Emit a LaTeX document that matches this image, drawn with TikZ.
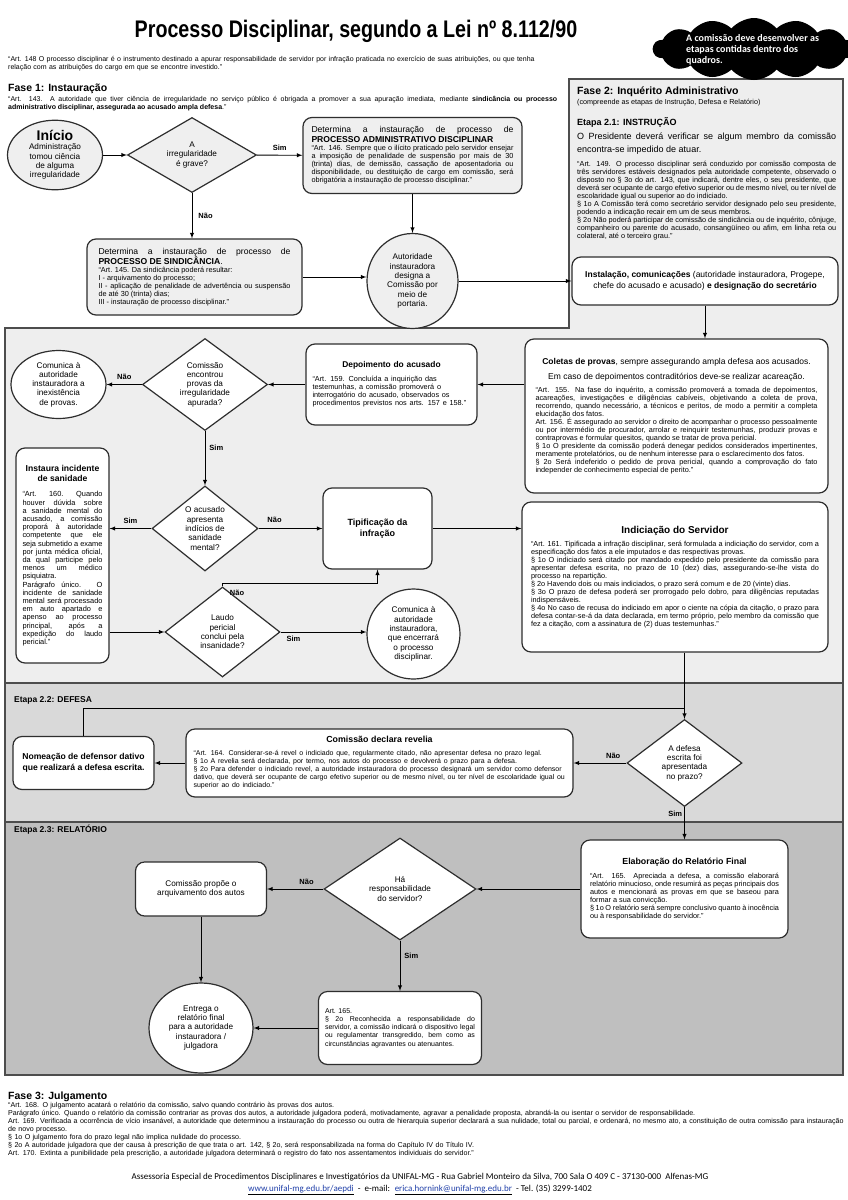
\documentclass[tikz,border=0pt]{standalone}
\usepackage{fontspec}
\usepackage{graphicx}
\setmainfont{Liberation Sans}
\newfontfamily\footfont{Carlito}
\usetikzlibrary{shapes.geometric,shapes.symbols}

\definecolor{panela}{HTML}{EEEEEE}
\definecolor{panelb}{HTML}{D9D9D9}
\definecolor{panelc}{HTML}{BFBFBF}
\definecolor{boxfill}{HTML}{EFEFEF}
\definecolor{edge}{HTML}{2E2E2E}
\definecolor{linkblue}{HTML}{1F3FA8}

\hyphenpenalty=10000
\exhyphenpenalty=10000
\tolerance=9999
\emergencystretch=20pt

\newcommand{\artsize}{\fontsize{7.3}{8}\selectfont}
\newcommand{\legsize}{\fontsize{7}{8}\selectfont}
\newcommand{\nodesize}{\fontsize{8.2}{9.3}\selectfont}
\newcommand{\optsize}{\fontsize{7.5}{8}\selectfont\bfseries}

\begin{document}
\begin{tikzpicture}
[every node/.style={inner sep=0pt}, >=latex,
 panel/.style={draw=edge!85, line width=1.2pt},
 procbox/.style={rectangle, rounded corners=9pt, draw=edge, line width=1.2pt, fill=white, align=center, font=\nodesize},
 grybox/.style={procbox, fill=boxfill},
 decision/.style={diamond, draw=edge, line width=1.2pt, fill=white, align=center, font=\nodesize},
 endcap/.style={ellipse, draw=edge, line width=1.2pt, fill=white, align=center, font=\nodesize},
 flow/.style={line width=0.9, ->, color=black},
 plain/.style={line width=0.9, color=black},
 answer/.style={font=\optsize}]
\useasboundingbox (0pt,0pt) rectangle (848pt,-1200pt);
\fill [white] (0pt,0pt) rectangle (848pt,-1200pt);

% panels of fase 2
\draw [panel, fill=panela] (569pt,-79pt) -- (843pt,-79pt) -- (843pt,-683pt) -- (5pt,-683pt) -- (5pt,-328pt) -- (569pt,-328pt) -- cycle;
\draw [panel, fill=panelb] (5pt,-683pt) rectangle (843pt,-822pt);
\draw [panel, fill=panelc] (5pt,-822pt) rectangle (843pt,-1075pt);

% title and note
\node (titulo) at (356pt,-31pt) {\fontsize{24}{24}\selectfont\bfseries\scalebox{0.82}[1]{Processo Disciplinar, segundo a Lei nº 8.112/90}};
\node (nota) [cloud, cloud puffs=14, cloud puff arc=100, aspect=3.4, fill=black, minimum width=202pt, minimum height=62pt] at (754pt,-49pt) {};
\node (notatxt) [anchor=west, align=left, text=white, font=\footfont\bfseries\fontsize{10}{11}\selectfont] at (686pt,-50pt) {A comissão deve desenvolver as\\etapas contidas dentro dos\\quadros.};
\node (art148) [anchor=north west, text width=560pt, align=left, font=\legsize] at (8pt,-56pt) {“Art. 148 O processo disciplinar é o instrumento destinado a apurar responsabilidade de servidor por infração praticada no exercício de suas atribuições, ou que tenha\\relação com as atribuições do cargo em que se encontre investido.”};

% fase 1
\node (fase1) [anchor=west, font=\fontsize{10.5}{12}\selectfont\bfseries] at (8pt,-89pt) {Fase 1: Instauração};
\node (art143) [anchor=north west, text width=549pt, align=justify, font=\legsize] at (8pt,-96pt) {“Art. 143.  A autoridade que tiver ciência de irregularidade no serviço público é obrigada a promover a sua apuração imediata, mediante \textbf{sindicância ou processo}\linebreak \textbf{administrativo disciplinar, assegurada ao acusado ampla defesa}.”\par};

\node (inicio) [endcap, fill=boxfill, minimum width=95pt, minimum height=68pt] at (55pt,-155pt) {{\fontsize{14}{15}\selectfont\bfseries Início}\\Administração\\tomou ciência\\de alguma\\irregularidade};
\node (grave) [decision, fill=boxfill, minimum width=129pt, minimum height=75pt, aspect=1.7] at (192pt,-155pt) {A\\irregularidade\\é grave?};
\node (pad) [grybox, text width=202pt, minimum width=219pt, minimum height=76pt, align=justify] at (412.5pt,-155.5pt) {{\fontsize{8.6}{9.8}\selectfont Determina a instauração de processo de\linebreak \textbf{PROCESSO ADMINISTRATIVO DISCIPLINAR}\par}{\artsize “Art. 146.  Sempre que o ilícito praticado pelo servidor ensejar a imposição de penalidade de suspensão por mais de 30 (trinta) dias, de demissão, cassação de aposentadoria ou disponibilidade, ou destituição de cargo em comissão, será obrigatória a instauração de processo disciplinar.”\par}};
\node (sind) [grybox, text width=192pt, minimum width=215pt, minimum height=76pt, align=justify] at (194.5pt,-277pt) {{\fontsize{8.6}{9.8}\selectfont Determina a instauração de processo de\linebreak \textbf{PROCESSO DE SINDICÂNCIA}.\par}{\artsize “Art. 145.  Da sindicância poderá resultar:\\I - arquivamento do processo;\\II - aplicação de penalidade de advertência ou suspensão de até 30 (trinta) dias;\\III - instauração de processo disciplinar.”\par}\vspace{8pt}};
\node (autor) [endcap, fill=boxfill, minimum width=91pt, minimum height=95pt] at (412.5pt,-281pt) {Autoridade\\instauradora\\designa a\\Comissão por\\meio de\\portaria.};

% fase 2, etapa 2.1
\node (fase2) [anchor=west, font=\fontsize{10.5}{12}\selectfont\bfseries] at (577pt,-92pt) {Fase 2: Inquérito Administrativo};
\node (fase2sub) [anchor=west, font=\fontsize{7.2}{8}\selectfont] at (577pt,-103pt) {(compreende as etapas de Instrução, Defesa e Relatório)};
\node (etapa1) [anchor=west, font=\fontsize{9}{10}\selectfont\bfseries] at (577pt,-122pt) {Etapa 2.1: INSTRUÇÃO};
\node (presidente) [anchor=north west, text width=259pt, align=justify, font=\fontsize{9}{12.5}\selectfont] at (577pt,-133pt) {O Presidente deverá verificar se algum membro da comissão encontra-se impedido de atuar.\par};
\node (art149) [anchor=north west, text width=259pt, align=justify, font=\artsize] at (577pt,-161pt) {“Art. 149.  O processo disciplinar será conduzido por comissão composta de três servidores estáveis designados pela autoridade competente, observado o disposto no § 3o do art. 143, que indicará, dentre eles, o seu presidente, que deverá ser ocupante de cargo efetivo superior ou de mesmo nível, ou ter nível de escolaridade igual ou superior ao do indiciado.\\§ 1o  A Comissão terá como secretário servidor designado pelo seu presidente, podendo a indicação recair em um de seus membros.\\§ 2o  Não poderá participar de comissão de sindicância ou de inquérito, cônjuge, companheiro ou parente do acusado, consangüíneo ou afim, em linha reta ou colateral, até o terceiro grau.”\par};
\node (instal) [procbox, minimum width=266pt, minimum height=48pt, font=\fontsize{8.5}{11}\selectfont] at (705pt,-281pt) {\textbf{Instalação, comunicações} (autoridade instauradora, Progepe,\\chefe do acusado e acusado) \textbf{e designação do secretário}};

\node (coletas) [procbox, text width=282pt, minimum width=303pt, minimum height=154pt, align=justify] at (676.5pt,-416pt) {{\centering\fontsize{8.5}{11}\selectfont \textbf{Coletas de provas}, sempre assegurando ampla defesa aos acusados.\par}\vspace{4pt}{\centering\fontsize{8.5}{11}\selectfont Em caso de depoimentos contraditórios deve-se realizar acareação.\par}\vspace{5pt}{\artsize “Art. 155.  Na fase do inquérito, a comissão promoverá a tomada de depoimentos, acareações, investigações e diligências cabíveis, objetivando a coleta de prova, recorrendo, quando necessário, a técnicos e peritos, de modo a permitir a completa elucidação dos fatos.\\Art. 156.  É assegurado ao servidor o direito de acompanhar o processo pessoalmente ou por intermédio de procurador, arrolar e reinquirir testemunhas, produzir provas e contraprovas e formular quesitos, quando se tratar de prova pericial.\\§ 1o  O presidente da comissão poderá denegar pedidos considerados impertinentes, meramente protelatórios, ou de nenhum interesse para o esclarecimento dos fatos.\\§ 2o  Será indeferido o pedido de prova pericial, quando a comprovação do fato independer de conhecimento especial de perito.”\par}};
\node (depo) [procbox, text width=158pt, minimum width=171pt, minimum height=81pt, align=left] at (391.5pt,-384.5pt) {{\centering\bfseries\fontsize{8.4}{10}\selectfont Depoimento do acusado\par}\vspace{6pt}{\artsize “Art. 159.  Concluída a inquirição das\\testemunhas, a comissão promoverá o\\interrogatório do acusado, observados os\\procedimentos previstos nos arts. 157 e 158.”\par}};
\node (encontrou) [decision, minimum width=125pt, minimum height=92pt, aspect=1.36] at (205pt,-384.5pt) {Comissão\\encontrou\\provas da\\irregularidade\\apurada?};
\node (semprova) [endcap, minimum width=95pt, minimum height=68pt] at (58.5pt,-384.5pt) {Comunica à\\autoridade\\instauradora a\\inexistência\\de provas.};
\node (sanidade) [decision, minimum width=106pt, minimum height=85pt, aspect=1.25] at (205pt,-528.5pt) {O acusado\\apresenta\\indícios de\\sanidade\\mental?};
\node (instaura) [procbox, text width=80pt, minimum width=93pt, minimum height=215pt, align=justify] at (62.5pt,-555.5pt) {{\centering\bfseries\fontsize{8.6}{10.5}\selectfont Instaura incidente de sanidade\par}\vspace{7pt}{\fontsize{7.4}{8.2}\selectfont “Art. 160.  Quando houver dúvida sobre a sanidade mental do acusado, a comissão proporá à autoridade competente que ele seja submetido a exame por junta médica oficial, da qual participe pelo menos um médico psiquiatra.\\Parágrafo único.  O incidente de sanidade mental será processado em auto apartado e apenso ao processo principal, após a expedição do laudo pericial.”\par}};
\node (tipif) [procbox, minimum width=109pt, minimum height=81pt, font=\fontsize{9}{11}\selectfont\bfseries] at (377.5pt,-528.5pt) {Tipificação da\\infração};
\node (laudo) [decision, minimum width=115pt, minimum height=90pt, aspect=1.3] at (222.5pt,-632pt) {Laudo\\pericial\\conclui pela\\insanidade?};
\node (encerra) [endcap, minimum width=93pt, minimum height=90pt] at (413.5pt,-634pt) {Comunica à\\autoridade\\instauradora,\\que encerrará\\o processo\\disciplinar.};
\node (indic) [procbox, text width=288pt, minimum width=306pt, minimum height=150pt, align=justify] at (675pt,-577pt) {{\centering\bfseries\fontsize{10}{12}\selectfont Indiciação do Servidor\par}\vspace{5pt}{\artsize “Art. 161.  Tipificada a infração disciplinar, será formulada a indiciação do servidor, com a especificação dos fatos a ele imputados e das respectivas provas.\\§ 1o  O indiciado será citado por mandado expedido pelo presidente da comissão para apresentar defesa escrita, no prazo de 10 (dez) dias, assegurando-se-lhe vista do processo na repartição.\\§ 2o  Havendo dois ou mais indiciados, o prazo será comum e de 20 (vinte) dias.\\§ 3o  O prazo de defesa poderá ser prorrogado pelo dobro, para diligências reputadas indispensáveis.\\§ 4o  No caso de recusa do indiciado em apor o ciente na cópia da citação, o prazo para defesa contar-se-á da data declarada, em termo próprio, pelo membro da comissão que fez a citação, com a assinatura de (2) duas testemunhas.”\par}};

% etapa 2.2
\node (etapa2) [anchor=west, font=\fontsize{8.5}{10}\selectfont\bfseries] at (14pt,-700pt) {Etapa 2.2: DEFESA};
\node (nomeacao) [procbox, minimum width=141pt, minimum height=53pt, font=\fontsize{8.6}{10.5}\selectfont\bfseries] at (83.5pt,-763pt) {Nomeação de defensor dativo\\que realizará a defesa escrita.};
\node (revelia) [procbox, text width=372pt, minimum width=387pt, minimum height=68pt, align=left] at (379.5pt,-763pt) {{\centering\bfseries\fontsize{8.8}{10}\selectfont Comissão declara revelia\par}\vspace{5pt}{\legsize “Art. 164.  Considerar-se-á revel o indiciado que, regularmente citado, não apresentar defesa no prazo legal.\\§ 1o  A revelia será declarada, por termo, nos autos do processo e devolverá o prazo para a defesa.\\§ 2o  Para defender o indiciado revel, a autoridade instauradora do processo designará um servidor como defensor\\dativo, que deverá ser ocupante de cargo efetivo superior ou de mesmo nível, ou ter nível de escolaridade igual ou\\superior ao do indiciado.”\par}};
\node (defesa) [decision, minimum width=115pt, minimum height=87pt, aspect=1.3] at (684.5pt,-763pt) {A defesa\\escrita foi\\apresentada\\no prazo?};
\coordinate (juncao) at (684.5pt,-708pt);

% etapa 2.3
\node (etapa3) [anchor=west, font=\fontsize{8.5}{10}\selectfont\bfseries] at (14pt,-830pt) {Etapa 2.3: RELATÓRIO};
\node (elab) [procbox, text width=189pt, minimum width=207pt, minimum height=98pt, align=justify] at (684.5pt,-889pt) {{\centering\bfseries\fontsize{8.8}{10}\selectfont Elaboração do Relatório Final\par}\vspace{6pt}{\artsize “Art. 165.  Apreciada a defesa, a comissão elaborará relatório minucioso, onde resumirá as peças principais dos autos e mencionará as provas em que se baseou para formar a sua convicção.\\§ 1o  O relatório será sempre conclusivo quanto à inocência ou à responsabilidade do servidor.”\par}};
\node (ha) [decision, minimum width=152pt, minimum height=102pt, aspect=1.5] at (400pt,-889pt) {Há\\responsabilidade\\do servidor?};
\node (propoe) [procbox, minimum width=131pt, minimum height=54pt] at (201pt,-889pt) {Comissão propõe o\\arquivamento dos autos};
\node (entrega) [endcap, minimum width=104pt, minimum height=90pt] at (201pt,-1028pt) {Entrega o\\relatório final\\para a autoridade\\instauradora /\\julgadora};
\node (art165) [procbox, text width=150pt, minimum width=163pt, minimum height=73pt, align=justify] at (400pt,-1028pt) {{\fontsize{7}{8.2}\selectfont Art. 165.\\§ 2o  Reconhecida a responsabilidade do servidor, a comissão indicará o dispositivo legal ou regulamentar transgredido, bem como as circunstâncias agravantes ou atenuantes.\par}};

% fase 3 and footer
\node (fase3) [anchor=west, font=\fontsize{10.5}{12}\selectfont\bfseries] at (8pt,-1097pt) {Fase 3: Julgamento};
\node (art168) [anchor=north west, text width=845pt, align=left, font=\fontsize{7.1}{8}\selectfont] at (8pt,-1102pt) {“Art. 168.  O julgamento acatará o relatório da comissão, salvo quando contrário às provas dos autos.\\Parágrafo único.  Quando o relatório da comissão contrariar as provas dos autos, a autoridade julgadora poderá, motivadamente, agravar a penalidade proposta, abrandá-la ou isentar o servidor de responsabilidade.\\Art. 169. Verificada a ocorrência de vício insanável, a autoridade que determinou a instauração do processo ou outra de hierarquia superior declarará a sua nulidade, total ou parcial, e ordenará, no mesmo ato, a constituição de outra comissão para instauração\\de novo processo.\\§ 1o  O julgamento fora do prazo legal não implica nulidade do processo.\\§ 2o  A autoridade julgadora que der causa à prescrição de que trata o art. 142, § 2o, será responsabilizada na forma do Capítulo IV do Título IV.\\Art. 170.  Extinta a punibilidade pela prescrição, a autoridade julgadora determinará o registro do fato nos assentamentos individuais do servidor.”};
\node (rodape) [align=center, font=\footfont\fontsize{9}{12.5}\selectfont] at (420pt,-1184pt) {Assessoria Especial de Procedimentos Disciplinares e Investigatórios da UNIFAL-MG - Rua Gabriel Monteiro da Silva, 700 Sala O 409 C - 37130-000~ Alfenas-MG\\\underline{\textcolor{linkblue}{www.unifal-mg.edu.br/aepdi}} ~-~ e-mail: ~\underline{\textcolor{linkblue}{erica.hornink@unifal-mg.edu.br}} ~- Tel. (35) 3299-1402};

% connectors
\draw [flow] (inicio) to (grave);
\draw [flow] (grave) to node [answer, above=4pt] {Sim} (pad);
\draw [flow] (grave.south) to node [answer, right=6pt] {Não} (grave.south |- sind.north);
\draw [flow] (pad) to (autor);
\draw [flow] (sind.east) to (sind.east -| autor.west);
\draw [flow] (autor) to (instal);
\draw [flow] (instal.south) to (instal.south |- coletas.north);
\draw [flow] (depo.east -| coletas.west) to (depo.east);
\draw [flow] (depo) to (encontrou);
\draw [flow] (encontrou) to node [answer, above=4pt] {Não} (semprova);
\draw [flow] (encontrou) to node [answer, right=4pt, pos=0.3] {Sim} (sanidade);
\draw [flow] (sanidade.west) to node [answer, above=4pt] {Sim} (sanidade.west -| instaura.east);
\draw [flow] (sanidade) to node [answer, above=5pt, pos=0.25] {Não} (tipif);
\draw [flow] (laudo.west -| instaura.east) to (laudo.west);
\coordinate (naovolta) at (222.5pt,-583pt);
\draw [flow] (laudo.north) -- (naovolta) -| (tipif.south);
\node (naolaudo) [answer] at (237pt,-593pt) {Não};
\draw [flow] (laudo.east) to node [answer, below=4pt, pos=0.15] {Sim} (laudo.east -| encerra.west);
\draw [flow] (tipif.east) to (tipif.east -| indic.west);
\draw [flow] (defesa.north |- indic.south) to (defesa.north);
\draw [plain] (nomeacao.north) |- (juncao);
\draw [flow] (defesa) to node [answer, above=4pt, pos=0.25] {Não} (revelia);
\draw [flow] (revelia) to (nomeacao);
\draw [flow] (defesa) to node [answer, left=2pt, pos=0.22] {Sim} (elab);
\draw [flow] (elab) to (ha);
\draw [flow] (ha) to node [answer, above=4pt, pos=0.3] {Não} (propoe);
\draw [flow] (propoe) to (entrega);
\draw [flow] (ha) to node [answer, right=4pt, pos=0.3] {Sim} (art165);
\draw [flow] (art165) to (entrega);
\end{tikzpicture}
\end{document}
